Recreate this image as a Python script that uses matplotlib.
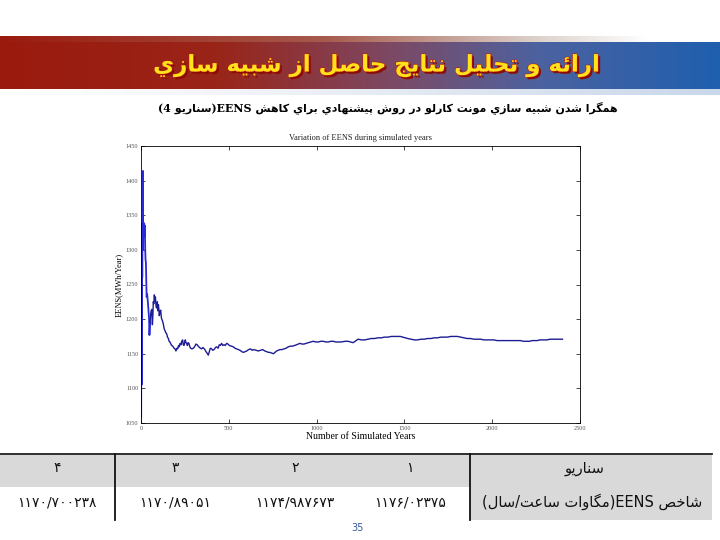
import numpy as np
import matplotlib
matplotlib.use("Agg")
import matplotlib.pyplot as plt
import matplotlib.patheffects as pe
from matplotlib.colors import LinearSegmentedColormap

# --- data ---
years = [1, 2, 3, 4, 5, 6, 7, 8, 9, 10, 11, 12, 13, 14, 15, 16, 18, 20, 22, 24,
         26, 28, 30, 32, 35, 38, 42, 46, 48, 52, 55, 58, 61, 65, 68, 70, 73, 76,
         79, 82, 86, 89, 93, 96, 99, 102, 104, 108, 112, 116, 120, 124, 127, 132,
         137, 142, 146, 151, 156, 160, 165, 170, 175, 181, 188, 194, 199, 204,
         209, 214, 218, 223, 228, 232, 237, 241, 245, 249, 252, 256, 260, 264,
         268, 273, 278, 283, 290, 298, 305, 313, 320, 326, 333, 339, 345, 352,
         361, 366, 370, 376, 383, 388, 393, 397, 402, 409, 416, 424, 431, 439,
         446, 452, 459, 466, 473, 480, 488, 495, 503, 515, 526, 535, 545, 555,
         564, 574, 583, 592, 602, 613, 624, 633, 643, 655, 668, 680, 693, 705,
         716, 725, 734, 744, 754, 763, 772, 781, 791, 803, 814, 826, 839, 851,
         864, 875, 886, 895, 905, 917, 928, 940, 953, 967, 981, 995, 1010, 1024,
         1038, 1053, 1067, 1081, 1095, 1110, 1124, 1141, 1162, 1179, 1208, 1236,
         1255, 1274, 1292, 1311, 1330, 1349, 1368, 1387, 1406, 1425, 1444, 1462,
         1477, 1491, 1505, 1519, 1538, 1557, 1575, 1594, 1613, 1632, 1651, 1670,
         1689, 1708, 1726, 1745, 1764, 1783, 1802, 1821, 1840, 1858, 1877, 1896,
         1915, 1934, 1953, 1972, 1990, 2009, 2028, 2047, 2066, 2085, 2104, 2123,
         2141, 2160, 2179, 2198, 2212, 2227, 2241, 2255, 2274, 2292, 2311, 2330,
         2349, 2368, 2385, 2400]
eens = [1058, 1240, 1105, 1300, 1190, 1338, 1260, 1335, 1300, 1398, 1414, 1325,
        1340, 1318, 1336, 1322, 1338, 1320, 1335, 1300, 1285, 1282, 1255, 1232,
        1236, 1228, 1215, 1200, 1177, 1195, 1207, 1212, 1214, 1192, 1208, 1225,
        1222, 1235, 1226, 1232, 1218, 1216, 1225, 1212, 1221, 1214, 1205, 1210,
        1213, 1202, 1199, 1196, 1193, 1186, 1183, 1180, 1179, 1174, 1172, 1168,
        1167, 1164, 1162, 1161, 1158, 1157, 1154, 1158, 1157, 1162, 1160, 1165,
        1163, 1168, 1170, 1163, 1162, 1167, 1170, 1166, 1165, 1162, 1166, 1165,
        1160, 1158, 1157, 1158, 1160, 1164, 1163, 1161, 1159, 1158, 1157, 1159,
        1157, 1155, 1153, 1151, 1148, 1152, 1157, 1158, 1157, 1155, 1156, 1159,
        1160, 1158, 1163, 1162, 1165, 1162, 1163, 1162, 1165, 1164, 1162, 1161,
        1160, 1158, 1157, 1156, 1155, 1153, 1152, 1153, 1154, 1156, 1157, 1155,
        1156, 1155, 1154, 1155, 1156, 1154, 1153, 1152, 1152, 1151, 1150, 1152,
        1154, 1155, 1156, 1156, 1157, 1158, 1160, 1161, 1161, 1162, 1163, 1164,
        1165, 1164, 1164, 1165, 1166, 1167, 1168, 1167, 1167, 1168, 1168, 1167,
        1167, 1168, 1168, 1167, 1167, 1167, 1168, 1168, 1166, 1171, 1170, 1170,
        1171, 1172, 1172, 1173, 1173, 1174, 1174, 1175, 1175, 1175, 1175, 1174,
        1173, 1172, 1171, 1170, 1170, 1171, 1171, 1172, 1172, 1173, 1173, 1174,
        1174, 1174, 1175, 1175, 1175, 1174, 1173, 1172, 1172, 1171, 1171, 1171,
        1170, 1170, 1170, 1170, 1169, 1169, 1169, 1169, 1169, 1169, 1169, 1169,
        1168, 1168, 1168, 1169, 1169, 1169, 1170, 1170, 1170, 1171, 1171, 1171,
        1171, 1171]

scenarios = ["۴", "۳", "۲", "۱"]
scenario_vals = ["۱۱۷۰/۷۰۰۲۳۸", "۱۱۷۰/۸۹۰۵۱", "۱۱۷۴/۹۸۷۶۷۳", "۱۱۷۶/۰۲۳۷۵"]

# --- tiny arabic shaper (matplotlib has no complex text layout) ---
FORMS = {
    'ا': ('\uFE8D', '\uFE8E', None, None), 'د': ('\uFEA9', '\uFEAA', None, None),
    'ر': ('\uFEAD', '\uFEAE', None, None), 'ز': ('\uFEAF', '\uFEB0', None, None),
    'و': ('\uFEED', '\uFEEE', None, None),
    'ب': ('\uFE8F', '\uFE90', '\uFE91', '\uFE92'), 'ت': ('\uFE95', '\uFE96', '\uFE97', '\uFE98'),
    'ج': ('\uFE9D', '\uFE9E', '\uFE9F', '\uFEA0'), 'ح': ('\uFEA1', '\uFEA2', '\uFEA3', '\uFEA4'),
    'خ': ('\uFEA5', '\uFEA6', '\uFEA7', '\uFEA8'),
    'س': ('\uFEB1', '\uFEB2', '\uFEB3', '\uFEB4'), 'ش': ('\uFEB5', '\uFEB6', '\uFEB7', '\uFEB8'),
    'ص': ('\uFEB9', '\uFEBA', '\uFEBB', '\uFEBC'), 'ع': ('\uFEC9', '\uFECA', '\uFECB', '\uFECC'),
    'ك': ('\uFED9', '\uFEDA', '\uFEDB', '\uFEDC'), 'ل': ('\uFEDD', '\uFEDE', '\uFEDF', '\uFEE0'),
    'م': ('\uFEE1', '\uFEE2', '\uFEE3', '\uFEE4'), 'ن': ('\uFEE5', '\uFEE6', '\uFEE7', '\uFEE8'),
    'ه': ('\uFEE9', '\uFEEA', '\uFEEB', '\uFEEC'), 'ي': ('\uFEF1', '\uFEF2', '\uFEF3', '\uFEF4'),
    'ئ': ('\uFE89', '\uFE8A', '\uFE8B', '\uFE8C'),
    'پ': ('\uFB56', '\uFB57', '\uFB58', '\uFB59'), 'گ': ('\uFB92', '\uFB93', '\uFB94', '\uFB95'),
}


def shape(s):
    out = []
    for i, c in enumerate(s):
        if c not in FORMS:
            out.append(c)
            continue
        prev = s[i - 1] if i > 0 else ''
        nxt = s[i + 1] if i + 1 < len(s) else ''
        jp = prev in FORMS and FORMS[prev][2] is not None
        jn = FORMS[c][2] is not None and nxt in FORMS
        f = FORMS[c]
        out.append(f[3] if jp and jn else f[1] if jp else f[2] if jn else f[0])
    return ''.join(out)


def vis(s):
    return shape(s)[::-1].translate(str.maketrans('()', ')('))


title_txt = vis("ارائه و تحليل نتايج حاصل از شبيه سازي")
sub_txt = vis("(سناريو 4)") + "EENS " + vis("همگرا شدن شبيه سازي مونت كارلو در روش پيشنهادي براي كاهش")
head_txt = vis("سناريو")
label_txt = vis("(مگاوات ساعت/سال)") + "EENS " + vis("شاخص")

fig = plt.figure(figsize=(7.2, 5.4), dpi=100)
fig.patch.set_facecolor("white")

# overlay in pixel coordinates
ov = fig.add_axes([0, 0, 1, 1])
ov.axis("off")

grad = np.linspace(0, 1, 512).reshape(1, -1)
top_cm = LinearSegmentedColormap.from_list("top", [(0, "#9a1b0f"), (0.45, "#a55a4c"),
                                                   (0.75, "#ddd3cc"), (0.9, "white"), (1, "white")])
ban_cm = LinearSegmentedColormap.from_list("ban", [(0, "#9b1a0e"), (0.3, "#9a2418"),
                                                   (0.55, "#7b4a66"), (0.75, "#4c62a0"), (1, "#1f5fae")])
bot_cm = LinearSegmentedColormap.from_list("bot", [(0, "white"), (0.4, "#eef1f6"), (1, "#c9d7ea")])
ov.imshow(grad, cmap=top_cm, extent=[0, 720, 42, 36], aspect="auto")
ov.imshow(grad, cmap=ban_cm, extent=[0, 720, 89, 42], aspect="auto")
ov.imshow(grad, cmap=bot_cm, extent=[0, 720, 95, 89], aspect="auto")
ov.set_xlim(0, 720)
ov.set_ylim(540, 0)

ov.text(376, 66, title_txt, ha="center", va="center", fontsize=16.5, fontweight="bold",
        color="#ffe21a", family="DejaVu Sans",
        path_effects=[pe.withSimplePatchShadow(offset=(1.6, -1.6), shadow_rgbFace="#8a0c05", alpha=1),
                      pe.withStroke(linewidth=0.8, foreground="#c01810")])
ov.text(388, 108, sub_txt, ha="center", va="center", fontsize=7.9, fontweight="bold",
        color="black", family=["DejaVu Serif", "DejaVu Sans"])

# table
ov.add_patch(plt.Rectangle((0, 454), 712, 33, facecolor="#d9d9d9", edgecolor="none"))
ov.add_patch(plt.Rectangle((470, 487), 242, 33, facecolor="#d9d9d9", edgecolor="none"))
ov.plot([0, 712], [454, 454], color="#222222", lw=1.3)
ov.plot([115, 115], [454, 520], color="#111111", lw=1.3)
ov.plot([470, 470], [454, 520], color="#111111", lw=1.3)
for xc, s, v in zip([57, 175, 295, 410], scenarios, scenario_vals):
    ov.text(xc, 468, s, ha="center", va="center", fontsize=10, color="#111111")
    ov.text(xc, 502, v, ha="center", va="center", fontsize=10, color="#111111")
ov.text(585, 468, head_txt, ha="center", va="center", fontsize=10.5, color="#111111")
ov.text(592, 502, label_txt, ha="center", va="center", fontsize=10.5, color="#111111",
        family=["DejaVu Sans"])
ov.text(358, 528, "35", ha="center", va="center", fontsize=7, color="#3b5aa0")

# chart
ax = fig.add_axes([141 / 720, 1 - 423 / 540, 439 / 720, 277 / 540])
ax.plot(years[:30], eens[:30], color="#2a2ad8", lw=1.3)
ax.plot(years[29:], eens[29:], color="#1c1c94", lw=1.0)
ax.set_xlim(0, 2500)
ax.set_ylim(1050, 1450)
ax.set_xticks(np.arange(0, 2501, 500))
ax.set_yticks(np.arange(1050, 1451, 50))
ax.tick_params(direction="in", top=True, right=True, length=3, width=0.5,
               labelsize=4.5, labelcolor="#555555", pad=2)
for sp in ax.spines.values():
    sp.set_linewidth(0.6)
for lab in ax.get_xticklabels() + ax.get_yticklabels():
    lab.set_family("Liberation Serif")
ax.set_title("Variation of EENS during simulated years", fontsize=6, family="Liberation Serif",
             color="#222222", pad=4)
ax.set_xlabel("Number of Simulated Years", fontsize=7, family="Liberation Serif", labelpad=1)
ax.set_ylabel("EENS(MWh/Year)", fontsize=6, family="Liberation Serif", labelpad=2)

fig.savefig("out.png", dpi=100)
